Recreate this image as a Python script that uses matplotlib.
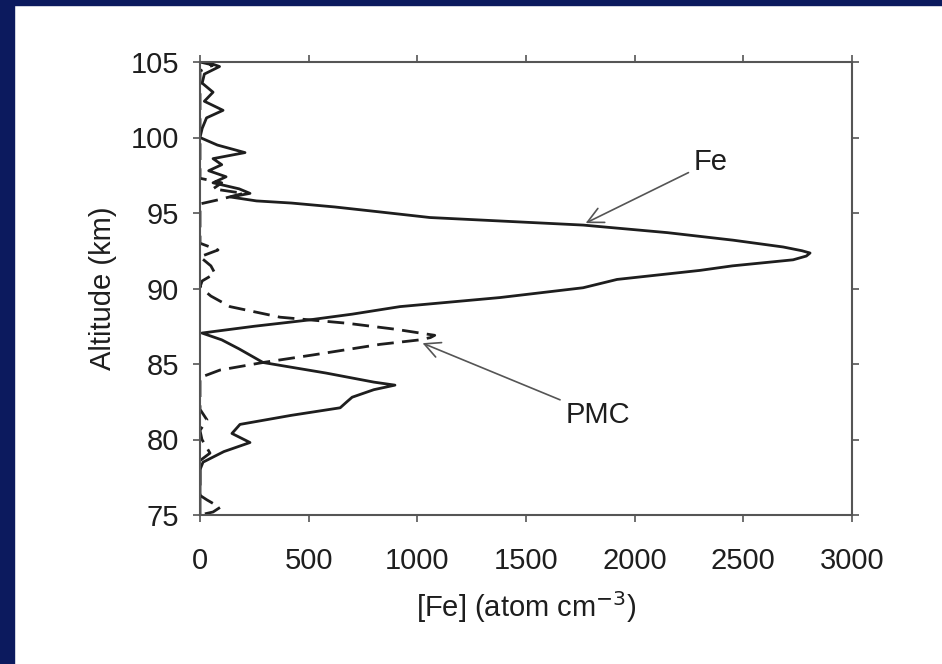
import matplotlib.pyplot as plt
from matplotlib.patches import Rectangle

plt.rcParams['font.family'] = ['Liberation Sans', 'DejaVu Sans']

# Fe layer profile (solid), altitude in km, density in atom cm^-3
fe_alt = [105.0, 104.7, 104.2, 103.6, 103.0, 102.4, 101.8, 101.3, 100.6, 100.0,
          99.5, 99.0, 98.6, 98.2, 97.8, 97.4, 97.0, 96.6, 96.3, 96.06,
          95.8, 95.66, 95.4, 95.07, 94.7, 94.2, 93.7, 93.2, 92.75, 92.5,
          92.35, 92.15, 91.9, 91.5, 91.2, 90.6, 90.05, 89.4, 88.8, 88.3,
          87.9, 87.5, 87.05, 86.6, 86.0, 85.1, 84.4, 83.8, 83.6, 83.3,
          82.8, 82.5, 82.1, 81.6, 81.0, 80.4, 79.8, 79.2, 78.5, 78.0, 75.0]
fe_val = [30, 90, 20, 10, 60, 20, 106, 30, 10, 0,
          80, 207, 60, 100, 40, 120, 60, 180, 230, 140,
          260, 420, 620, 828, 1058, 1763, 2150, 2453, 2683, 2770,
          2807, 2790, 2729, 2450, 2301, 1919, 1763, 1380, 920, 700,
          492, 250, 9, 100, 180, 290, 580, 800, 897, 800,
          700, 676, 645, 420, 184, 147, 230, 110, 14, 0, 0]

# PMC profile (dashed)
pmc_alt = [105.0, 104.8, 104.4, 97.3, 97.0, 96.6, 96.3, 95.9, 95.6, 93.0,
           92.55, 92.1, 91.5, 91.0, 90.5, 90.1, 89.5, 88.8, 88.1, 87.7,
           87.3, 86.9, 86.75, 86.6, 86.3, 85.6, 85.1, 84.6, 84.1, 82.0,
           81.3, 80.6, 80.0, 79.1, 78.6, 76.3, 76.0, 75.5, 75.2, 75.0]
pmc_val = [0, 60, 0, 0, 100, 60, 200, 92, 0, 0,
           83, 0, 50, 69, 10, 0, 50, 138, 368, 676,
           900, 1080, 1060, 1012, 828, 520, 290, 92, 0, 0,
           32, 0, 9, 46, 0, 0, 32, 92, 60, 0]

xticks = [0, 500, 1000, 1500, 2000, 2500, 3000]
yticks = [75, 80, 85, 90, 95, 100, 105]

fig = plt.figure(figsize=(9.42, 6.64), dpi=100)
fig.patch.set_facecolor('white')
navy = '#0c1a5e'
fig.patches.append(Rectangle((0, 0), 14 / 942, 1, transform=fig.transFigure,
                             color=navy, zorder=0))
fig.patches.append(Rectangle((0, 1 - 5 / 664), 1, 5 / 664, transform=fig.transFigure,
                             color=navy, zorder=0))

ax = fig.add_axes([200 / 942, 1 - 515 / 664, 652 / 942, 453 / 664])
ax.plot(fe_val, fe_alt, color='#1e1e1e', lw=2.0)
ax.plot(pmc_val, pmc_alt, color='#1e1e1e', lw=2.0, dashes=(6, 3))

ax.set_xlim(0, 3000)
ax.set_ylim(75, 105)
ax.set_xticks(xticks)
ax.set_yticks(yticks)
ax.tick_params(axis='both', which='major', labelsize=21, direction='out',
               length=5, width=1.2, color='#555555', labelcolor='#1e1e1e',
               top=True, right=True)
ax.tick_params(axis='x', pad=18)
ax.tick_params(axis='y', pad=10)
for s in ax.spines.values():
    s.set_color('#555555')
    s.set_linewidth(1.5)

ax.set_xlabel('[Fe] (atom cm$^{-3}$)', fontsize=21, color='#1e1e1e', labelpad=10)
ax.set_ylabel('Altitude (km)', fontsize=21, color='#1e1e1e', labelpad=10)

arrow = dict(arrowstyle='->', color='#555555', lw=1.2, mutation_scale=28)
ax.annotate('Fe', xy=(1763, 94.25), xytext=(2350, 98.4), fontsize=21,
            color='#1e1e1e', ha='center', va='center', arrowprops=arrow)
ax.annotate('PMC', xy=(1012, 86.45), xytext=(1830, 81.6), fontsize=21,
            color='#1e1e1e', ha='center', va='center', arrowprops=arrow)

fig.savefig('out.png', dpi=100, facecolor=fig.get_facecolor())
